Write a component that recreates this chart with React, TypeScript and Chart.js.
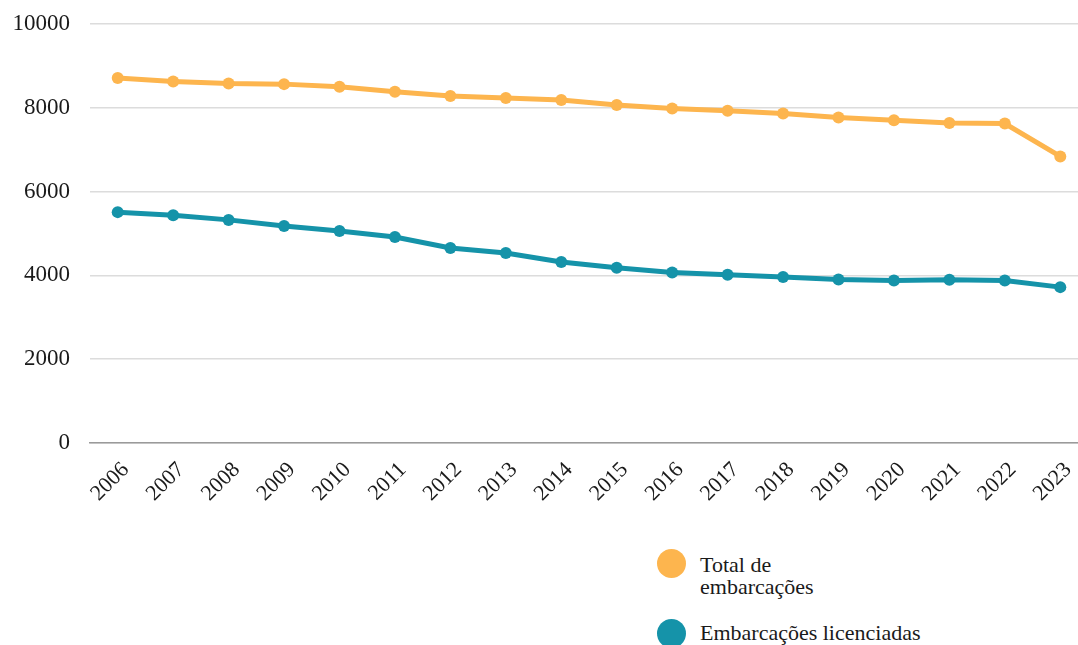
import React, { useEffect, useRef } from "react";
import { Chart, registerables } from "chart.js";

Chart.register(...registerables);

const years = ["2006","2007","2008","2009","2010","2011","2012","2013","2014","2015","2016","2017","2018","2019","2020","2021","2022","2023"];
const totalVessels = [8710, 8630, 8580, 8565, 8500, 8385, 8280, 8232, 8184, 8065, 7986, 7928, 7866, 7770, 7705, 7640, 7625, 6840];
const licensedVessels = [5510, 5435, 5325, 5178, 5060, 4916, 4653, 4533, 4318, 4184, 4072, 4017, 3960, 3904, 3880, 3895, 3880, 3720];
const yTicks = [0, 2000, 4000, 6000, 8000, 10000];
const seriesNames = [["Total de", "embarcações"], ["Embarcações licenciadas"]];

const ORANGE = "#FDB54E";
const TEAL = "#1593A9";
const FONT = "'Liberation Serif', 'Times New Roman', serif";

export default function App() {
  const ref = useRef<HTMLCanvasElement | null>(null);

  useEffect(() => {
    if (!ref.current) return;
    const chart = new Chart(ref.current, {
      type: "line",
      data: {
        labels: years,
        datasets: [
          {
            label: seriesNames[0].join(" "),
            data: totalVessels,
            borderColor: ORANGE,
            backgroundColor: ORANGE,
            borderWidth: 5,
            pointRadius: 6,
            pointBackgroundColor: ORANGE,
            pointBorderWidth: 0,
            tension: 0,
          },
          {
            label: seriesNames[1].join(" "),
            data: licensedVessels,
            borderColor: TEAL,
            backgroundColor: TEAL,
            borderWidth: 5,
            pointRadius: 6,
            pointBackgroundColor: TEAL,
            pointBorderWidth: 0,
            tension: 0,
          },
        ],
      },
      options: {
        animation: false,
        responsive: false,
        maintainAspectRatio: false,
        layout: { padding: { top: 24, right: 0, bottom: 0, left: 0 } },
        plugins: { legend: { display: false }, tooltip: { enabled: false } },
        scales: {
          x: {
            offset: true,
            grid: { display: false, drawTicks: false },
            border: { display: true, color: "#9a9a9a", width: 1.5 },
            ticks: {
              minRotation: 45,
              maxRotation: 45,
              autoSkip: false,
              padding: 14,
              labelOffset: 8,
              color: "#1a1a1a",
              font: { family: FONT, size: 22 },
            },
            afterFit: (s: any) => { s.height = 80; s.paddingRight = 0; },
          },
          y: {
            min: 0,
            max: 10000,
            afterBuildTicks: (s: any) => { s.ticks = yTicks.map((v) => ({ value: v })); },
            grid: { color: "#dcdcdc", lineWidth: 1.5, drawTicks: false },
            border: { display: false },
            ticks: {
              padding: 20,
              color: "#1a1a1a",
              font: { family: FONT, size: 23 },
              callback: (v: any) => String(v),
            },
            afterFit: (s: any) => { s.width = 90; s.paddingTop = 0; s.paddingBottom = 0; },
          },
        },
      },
    });
    return () => chart.destroy();
  }, []);

  const legendText: React.CSSProperties = {
    position: "absolute",
    left: 700,
    fontFamily: FONT,
    fontSize: 22,
    lineHeight: "22px",
    color: "#1a1a1a",
    whiteSpace: "nowrap",
  };
  const dot = (color: string, top: number): React.CSSProperties => ({
    position: "absolute",
    left: 657,
    top,
    width: 29,
    height: 29,
    borderRadius: "50%",
    background: color,
  });

  return (
    <div style={{ position: "absolute", left: 0, top: 0, width: 1078, height: 645, overflow: "hidden", background: "#fff" }}>
      <canvas ref={ref} width={1094} height={523} style={{ position: "absolute", left: 0, top: 0, width: 1094, height: 523 }} />
      <div style={dot(ORANGE, 549)} />
      <div style={{ ...legendText, top: 554 }}>
        {seriesNames[0].map((l, i) => (<div key={i}>{l}</div>))}
      </div>
      <div style={dot(TEAL, 619)} />
      <div style={{ ...legendText, top: 622 }}>{seriesNames[1][0]}</div>
    </div>
  );
}
